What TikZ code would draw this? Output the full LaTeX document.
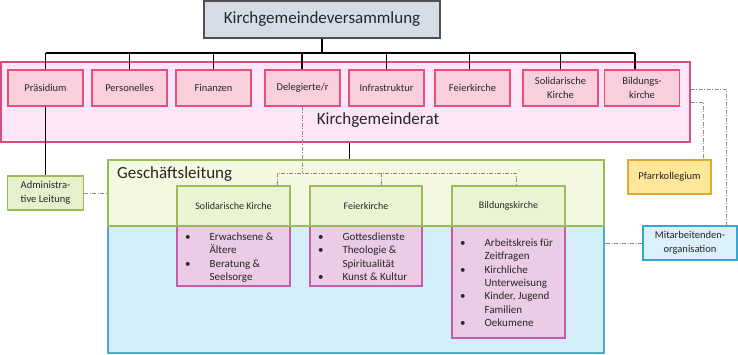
\documentclass[tikz,border=0pt]{standalone}
\usepackage{fontspec}
\setmainfont{Carlito}
\usetikzlibrary{calc}
\definecolor{txt}{HTML}{262626}
\definecolor{topfill}{HTML}{D6DCE5}
\definecolor{topdraw}{HTML}{505050}
\definecolor{kgrfill}{HTML}{FDE6F8}
\definecolor{kgrdraw}{HTML}{D4507A}
\definecolor{pfill}{HTML}{F9CFDB}
\definecolor{pdraw}{HTML}{EA4E7B}
\definecolor{glfill}{HTML}{F3F9E1}
\definecolor{gldraw}{HTML}{9BBB59}
\definecolor{hfill}{HTML}{EBF4D2}
\definecolor{bfill}{HTML}{D3EEF8}
\definecolor{bdraw}{HTML}{4BACC6}
\definecolor{lfill}{HTML}{EBCCE6}
\definecolor{ldraw}{HTML}{C35EAA}
\definecolor{admfill}{HTML}{E6F0CD}
\definecolor{pffill}{HTML}{FFE699}
\definecolor{pfdraw}{HTML}{DDAA33}
\definecolor{mitfill}{HTML}{DAF0FA}
\definecolor{mitdraw}{HTML}{3AA5CC}
\definecolor{ddgray}{HTML}{8C8C8C}
\newcommand{\bitem}[1]{\makebox[33pt][l]{\hspace{8.5pt}•}#1}
\newcommand{\bcont}[1]{\makebox[33pt][l]{}#1}
\begin{document}
\begin{tikzpicture}[x=1pt,y=-1pt,
  box/.style={draw, rectangle, inner sep=1pt, align=center, text=txt},
  topbox/.style={box, fill=topfill, draw=topdraw, line width=1.2pt, font=\fontsize{17}{20}\selectfont},
  kgrbox/.style={box, fill=kgrfill, draw=kgrdraw, line width=1.3pt},
  pbox/.style={box, fill=pfill, draw=pdraw, line width=1.2pt, font=\fontsize{10.5}{13.3}\selectfont, minimum width=75pt, minimum height=36pt},
  glbox/.style={box, fill=glfill, draw=gldraw, line width=1.3pt},
  bluebox/.style={box, fill=bfill, draw=bdraw, line width=1.3pt},
  hbox/.style={box, fill=hfill, draw=gldraw, line width=1.2pt, font=\fontsize{10}{12}\selectfont, minimum height=40pt},
  lbox/.style={box, fill=lfill, draw=ldraw, line width=1.2pt},
  listtext/.style={inner sep=0pt, anchor=north west, align=left, text=txt, font=\fontsize{11}{13.4}\selectfont},
  bigtext/.style={inner sep=0pt, text=txt, font=\fontsize{17}{20}\selectfont},
  sidebox/.style={box, line width=1.2pt, font=\fontsize{10.5}{13.7}\selectfont, minimum height=34pt},
  blk/.style={draw=black, line width=1.3pt},
  dd/.style={draw=ddgray, line width=0.8pt, dash pattern=on 4pt off 1.5pt on 1pt off 1.5pt}
]
\useasboundingbox (0,0) rectangle (738,354);

% top
\node[topbox, minimum width=236pt, minimum height=37pt] (kgv) at (322,19.5) {Kirchgemeindeversammlung};

% Kirchgemeinderat
\node[kgrbox, minimum width=689pt, minimum height=80pt] (kgr) at (345.5,102) {};
\node[bigtext] (kgrlabel) at (378,120) {Kirchgemeinderat};

\node[pbox] (pr) at (45.5,88) {Präsidium};
\node[pbox] (pe) at (129.5,88) {Personelles};
\node[pbox] (fi) at (213.5,88) {Finanzen};
\node[pbox] (de) at (302.5,88) {Delegierte/r};
\node[pbox] (in) at (386.5,88) {Infrastruktur};
\node[pbox] (fe) at (472.5,88) {Feierkirche};
\node[pbox] (so) at (560.5,88) {Solidarische\\Kirche};
\node[pbox] (bi) at (642,88) {Bildungs-\\kirche};

% bus
\coordinate (bus) at (322,53);
\draw[blk] (kgv.south) -- (bus);
\draw[blk] (pr.north |- bus) -- ([xshift=-7pt]bi.north |- bus);
\foreach \n in {pr,pe,fi,in,so} \draw[blk] (\n.north) -- (\n.north |- bus);
\draw[blk] ([xshift=-0.5pt]de.north) -- ([xshift=-0.5pt]de.north |- bus);
\draw[blk] ([xshift=-3pt]fe.north) -- ([xshift=-3pt]fe.north |- bus);
\draw[blk] ([xshift=-7pt]bi.north) -- ([xshift=-7pt]bi.north |- bus);

% Geschaeftsleitung + blue
\node[bluebox, minimum width=496pt, minimum height=127pt] (blue) at (356,289.5) {};
\node[glbox, minimum width=496pt, minimum height=66pt] (gl) at (356,193) {};
\node[bigtext, anchor=west] (gllabel) at (117,174) {Geschäftsleitung};

\draw[blk] ([xshift=4pt]kgr.south) -- ([xshift=4pt]kgr.south |- gl.north);

% list boxes
\node[lbox, minimum width=113pt, minimum height=60pt] (skl) at (233.5,256) {};
\node[lbox, minimum width=112pt, minimum height=60pt] (fkl) at (366,256) {};
\node[lbox, minimum width=113pt, minimum height=112pt] (bkl) at (508.5,282) {};

% headers
\node[hbox, minimum width=113pt] (skh) at (233.5,206) {Solidarische Kirche};
\node[hbox, minimum width=112pt] (fkh) at (366,206) {Feierkirche};
\node[hbox, minimum width=113pt] (bkh) at (508.5,206) {Bildungskirche};

% list texts
\node[listtext] (skt) at ([yshift=-7pt]skl.north west) {\bitem{Erwachsene \&}\\\bcont{Ältere}\\\bitem{Beratung \&}\\\bcont{Seelsorge}};
\node[listtext] (fkt) at ([yshift=-7pt]fkl.north west) {\bitem{Gottesdienste}\\\bitem{Theologie \&}\\\bcont{Spiritualität}\\\bitem{Kunst \& Kultur}};
\node[listtext] (bkt) at ([yshift=-13pt]bkl.north west) {\bitem{Arbeitskreis für}\\\bcont{Zeitfragen}\\\bitem{Kirchliche}\\\bcont{Unterweisung}\\\bitem{Kinder, Jugend}\\\bcont{Familien}\\\bitem{Oekumene}};

% side boxes
\node[sidebox, fill=admfill, draw=gldraw, minimum width=76pt] (adm) at (45.5,193) {Administra-\\tive Leitung};
\node[sidebox, fill=pffill, draw=pfdraw, minimum width=83pt] (pf) at (669.5,177) {Pfarrkollegium};
\node[sidebox, fill=mitfill, draw=mitdraw, minimum width=94pt] (mit) at (690,243) {Mitarbeitenden-\\organisation};

\draw[blk] (pr.south) -- (adm.north);

% dash-dot connectors
\coordinate (dj) at (302,173);
\draw[dd] (de.south -| dj) -- (dj);
\draw[dd] ([xshift=44pt]skh.north) |- ([xshift=7.5pt]bkh.north |- dj) -- ([xshift=7.5pt]bkh.north);
\draw[dd] ([xshift=15.7pt]fkh.north) -- ([xshift=15.7pt]fkh.north |- dj);
\draw[dd] (adm.east) -- (adm.east -| gl.west);
\draw[dd] (mit.west) -- (mit.west -| blue.east);
\draw[dd] (kgr.east |- 0,102) -| ([xshift=33.5pt]pf.north);
\draw[dd] (kgr.east |- 0,89) -| ([xshift=36pt]mit.north);
\end{tikzpicture}
\end{document}
